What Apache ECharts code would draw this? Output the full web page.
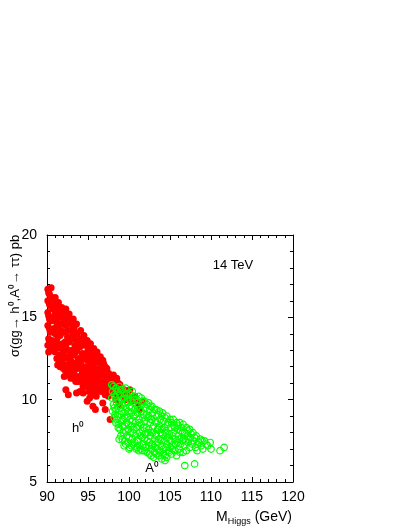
<!DOCTYPE html>
<html lang="en">
<head>
    <meta charset="UTF-8">
    <title>sigma(gg -> h0,A0 -> tautau) 14 TeV</title>
    <style>
        body{ margin:0; background:#fff; }
        #main{ width:409px; height:529px; }
    </style>
    <script src="https://cdn.jsdelivr.net/npm/echarts@6/dist/echarts.min.js"></script>
</head>
<body>
<div id="main"></div>
<script type="text/javascript">

    // axis ranges
    var xRange = [90, 120];
    var yRange = [5, 20];

    // h0 points (M_Higgs, sigma) - red filled
    var hPoints = [
        [90.1,16.7],[90.3,16.4],[90.1,16.0],[90.4,15.7],[90.1,15.3],[90.3,14.9],[90.1,14.5],[90.4,14.1],[90.2,13.7],[90.1,13.3],[90.4,13.0],
        [90.5,16.8],[90.6,16.2],[90.7,15.5],[90.6,14.8],[90.8,14.3],[90.6,13.6],[90.8,13.1],
        [91.0,16.2],[91.1,15.8],[91.0,15.2],[91.2,14.7],[91.0,14.0],[91.2,13.5],[91.0,12.9],[91.2,12.5],
        [91.4,15.9],[91.5,15.4],[91.4,14.4],[91.6,13.9],[91.4,13.2],[91.6,12.7],[91.3,12.1],
        [91.8,15.6],[91.9,15.0],[91.8,14.6],[92.0,14.1],[91.9,13.4],[92.0,12.9],[91.8,12.3],[92.0,11.9],[92.1,11.4],
        [92.3,15.5],[92.4,15.0],[92.3,14.5],[92.5,13.8],[92.3,13.2],[92.5,12.6],[92.4,12.1],[92.6,11.7],
        [92.7,15.2],[92.8,14.7],[92.9,14.2],[92.7,13.5],[92.9,12.9],[92.8,12.4],[93.0,11.9],[92.9,11.3],[92.3,10.6],[92.6,10.3],
        [93.2,14.9],[93.3,14.4],[93.2,13.9],[93.4,13.3],[93.2,12.7],[93.4,12.2],[93.3,11.6],[93.5,11.1],
        [93.6,14.6],[93.7,14.0],[93.8,13.6],[93.6,13.0],[93.8,12.5],[93.7,11.9],[93.9,11.4],[93.6,10.4],[94.0,10.5],
        [94.1,14.2],[94.2,13.7],[94.0,13.2],[94.3,12.8],[94.1,12.2],[94.3,11.7],[94.1,11.1],
        [94.5,13.9],[94.6,13.3],[94.5,12.5],[94.7,12.0],[94.5,11.4],[94.6,10.8],[94.4,10.4],
        [94.9,13.6],[95.0,13.0],[94.9,12.4],[95.1,11.9],[94.9,11.3],[95.0,10.8],[94.9,9.9],[95.2,10.1],[95.6,10.4],
        [95.3,13.4],[95.4,12.8],[95.3,12.2],[95.5,11.6],[95.3,11.1],[95.5,10.7],
        [95.7,13.1],[95.8,12.5],[95.7,12.0],[95.9,11.4],[95.8,10.9],[95.6,9.6],[95.9,9.4],
        [96.1,12.9],[96.2,12.3],[96.1,11.7],[96.3,11.2],[96.2,10.6],[96.0,10.2],
        [96.5,12.6],[96.6,12.0],[96.5,11.5],[96.7,11.0],[96.6,10.5],[96.8,9.8],
        [96.9,12.2],[97.0,11.6],[96.9,11.1],[97.1,10.6],[97.1,9.4],
        [97.3,11.9],[97.4,11.3],[97.3,10.8],[97.5,10.2],[97.7,8.8],
        [97.7,11.5],[97.8,11.0],[97.7,10.4],[98.1,11.5],[98.2,11.0],[98.1,10.4],
        [98.5,11.3],[98.6,10.7],[98.4,10.0],[98.9,10.9],[99.0,10.3],[98.8,9.7],
        [99.4,10.6],[99.5,10.0],[99.8,10.4],[100.1,10.6],[100.3,9.9],[100.7,10.2],[101.1,9.8],[101.6,9.9],[101.3,9.4],
        [90.2,16.5],[90.3,15.8],[90.2,15.1],[90.3,14.3],[90.3,13.5],[90.2,12.9],[90.9,15.9],[90.9,15.0],[90.9,14.1],[90.9,13.3],
        [91.1,14.4],[91.1,13.1],[91.3,15.6],[91.3,14.9],[91.3,13.8],[91.5,12.4],[91.7,15.2],[91.7,14.2],[91.7,13.1],[91.6,12.0],
        [92.1,15.3],[92.1,14.7],[92.2,13.5],[92.1,12.5],[92.2,11.8],[92.5,14.2],[92.6,13.0],[92.6,12.0],[92.7,11.5],
        [93.0,14.6],[93.0,13.7],[93.1,13.0],[93.0,12.3],[93.2,11.3],[93.4,14.1],[93.5,13.6],[93.5,12.9],[93.5,12.0],
        [93.8,13.2],[93.9,12.1],[93.8,11.1],[94.2,13.4],[94.3,12.5],[94.2,11.9],[94.3,11.3],[94.4,10.8],
        [94.7,13.6],[94.8,12.8],[94.7,11.7],[94.8,11.1],[95.1,13.3],[95.2,12.6],[95.2,11.5],[95.1,10.5],
        [95.6,12.8],[95.5,12.2],[95.6,11.2],[95.7,10.6],[96.0,12.6],[96.0,11.9],[95.9,11.0],
        [96.4,12.3],[96.4,11.4],[96.4,10.9],[96.8,12.4],[96.8,11.7],[96.8,10.8],[97.1,12.0],[97.2,11.4],[97.1,10.3],
        [97.5,11.6],[97.6,11.1],[97.4,10.5],[97.9,11.2],[97.9,10.7],[98.3,11.2],[98.3,10.6],[98.7,11.0],[98.6,10.3]
    ];

    // A0 points (M_Higgs, sigma) - green open circles
    var aPoints = [
        [97.9,10.9],[98.0,10.5],[97.9,10.1],[98.1,9.7],[98.0,9.3],[98.2,8.9],
        [98.4,10.7],[98.3,10.2],[98.5,9.8],[98.4,9.4],[98.6,9.0],[98.4,8.6],[98.7,8.3],
        [98.8,10.8],[98.9,10.3],[98.8,9.9],[99.0,9.5],[98.9,9.1],[99.1,8.7],[98.9,8.2],[99.0,7.8],
        [99.2,10.6],[99.3,10.1],[99.2,9.7],[99.4,9.2],[99.3,8.8],[99.5,8.4],[99.3,8.0],[99.5,7.5],[99.4,7.2],
        [99.6,10.7],[99.7,10.3],[99.8,9.9],[99.6,9.5],[99.8,9.0],[99.7,8.6],[99.9,8.2],[99.7,7.8],[99.9,7.4],[100.1,7.1],
        [100.0,10.4],[100.2,10.0],[100.1,9.6],[100.3,9.2],[100.1,8.8],[100.3,8.4],[100.2,8.0],[100.4,7.6],[100.3,7.2],
        [100.6,10.2],[100.5,9.8],[100.7,9.4],[100.6,9.0],[100.8,8.6],[100.6,8.2],[100.8,7.8],[100.7,7.4],[100.9,7.0],
        [101.0,10.0],[101.1,9.6],[101.0,9.2],[101.2,8.8],[101.1,8.4],[101.3,8.0],[101.1,7.6],[101.3,7.2],[101.2,6.9],
        [101.5,10.1],[101.6,9.7],[101.5,9.3],[101.7,8.9],[101.5,8.5],[101.7,8.1],[101.6,7.7],[101.8,7.3],[101.6,6.9],
        [101.9,9.9],[102.0,9.5],[102.1,9.1],[101.9,8.7],[102.1,8.3],[102.0,7.9],[102.2,7.5],[102.0,7.1],[102.2,6.8],
        [102.4,9.8],[102.5,9.4],[102.4,9.0],[102.6,8.6],[102.4,8.2],[102.6,7.8],[102.5,7.4],[102.7,7.0],[102.5,6.7],
        [102.8,9.6],[102.9,9.2],[102.8,8.8],[103.0,8.4],[102.9,8.0],[103.1,7.6],[102.9,7.2],[103.1,6.8],[103.0,6.5],
        [103.3,9.4],[103.4,9.0],[103.3,8.6],[103.5,8.2],[103.3,7.8],[103.5,7.4],[103.4,7.0],[103.6,6.6],
        [103.7,9.3],[103.8,8.8],[103.7,8.4],[103.9,8.0],[103.8,7.6],[104.0,7.2],[103.8,6.8],[104.0,6.4],
        [104.1,9.2],[104.2,8.7],[104.3,8.3],[104.1,7.9],[104.3,7.5],[104.2,7.0],[104.4,6.6],[104.4,6.3],
        [104.6,9.0],[104.7,8.5],[104.5,8.1],[104.7,7.7],[104.6,7.3],[104.8,6.9],
        [105.0,8.8],[105.1,8.3],[104.9,7.9],[105.1,7.5],[105.0,7.1],[105.2,6.7],
        [105.4,8.8],[105.5,8.4],[105.4,8.0],[105.6,7.6],[105.4,7.2],[105.8,6.6],
        [105.8,8.6],[105.9,8.2],[106.0,7.8],[105.9,7.4],[106.1,7.0],
        [106.2,8.6],[106.3,8.1],[106.4,7.7],[106.3,7.3],
        [106.6,8.5],[106.5,8.0],[106.7,7.6],[106.8,7.2],[106.6,6.8],[106.8,6.0],
        [107.0,8.3],[107.1,7.8],[107.2,7.4],[107.4,8.2],[107.5,7.7],[107.4,7.1],
        [107.8,8.0],[107.9,7.5],[108.0,6.1],[108.2,7.8],[108.3,7.3],[108.3,6.9],
        [108.7,7.6],[108.8,7.2],[109.2,7.5],[109.6,7.2],[109.9,7.4],[110.0,7.0],[111.1,6.9],[111.6,7.1],
        [98.1,10.8],[98.2,10.3],[98.2,9.5],[98.3,9.1],[98.5,8.8],[98.6,10.5],[98.7,9.6],[98.7,8.5],[98.8,7.6],
        [99.0,10.6],[99.1,10.0],[99.1,9.3],[99.2,8.4],[99.2,7.6],[99.4,10.4],[99.5,9.8],[99.5,8.9],[99.6,8.1],[99.6,7.3],
        [99.8,10.1],[99.9,9.3],[99.9,8.5],[100.0,7.7],[100.0,7.0],[100.2,10.3],[100.3,9.5],[100.4,8.7],[100.5,8.0],[100.5,7.3],
        [100.4,10.5],[100.7,10.0],[100.8,9.1],[100.9,8.3],[101.0,7.5],[101.0,7.1],[101.2,10.2],[101.3,9.4],[101.3,8.6],[101.4,7.8],[101.4,7.0],
        [101.7,9.9],[101.8,9.1],[101.8,8.3],[101.9,7.6],[101.9,6.9],[102.2,9.7],[102.3,8.9],[102.3,8.0],[102.4,7.2],
        [102.6,9.6],[102.7,8.8],[102.7,8.0],[102.8,7.3],[102.7,6.6],[103.1,9.4],[103.2,8.7],[103.2,7.9],[103.2,7.1],[103.3,6.7],
        [103.6,9.1],[103.6,8.3],[103.6,7.6],[103.7,6.9],[104.0,9.0],[104.0,8.2],[104.0,7.5],[104.2,6.7],
        [104.4,8.9],[104.4,8.0],[104.5,7.1],[104.6,6.5],[104.8,8.6],[104.9,7.6],[104.9,6.8],
        [105.2,8.6],[105.3,7.8],[105.3,7.0],[105.6,8.3],[105.7,7.3],[105.6,6.9],[106.0,8.4],[106.1,7.6],[106.2,6.8],
        [106.4,8.3],[106.5,7.5],[106.8,8.0],[106.9,7.5],[107.0,6.9],[107.2,8.1],[107.3,7.6],[107.6,7.9],[107.7,7.3],
        [108.0,7.7],[108.1,7.1],[108.5,7.4],[108.9,7.5],[109.0,7.0],[109.4,7.3]
    ];

    var FONT = '"Liberation Sans", Arial, sans-serif';

    var myChart = echarts.init(document.getElementById('main'), null, {renderer: 'canvas'});

    // common axis bits
    function axisBase(showLabel, pos) {
        return {
            position: pos,
            scale: true,
            splitLine: {show: false},
            axisLine: {show: true, onZero: false, lineStyle: {color: '#000', width: 1}},
            axisTick: {show: true, inside: true, length: 5, lineStyle: {color: '#000', width: 1}},
            minorTick: {show: true, splitNumber: 5, length: 3, lineStyle: {color: '#000', width: 1}},
            axisLabel: {show: showLabel, color: '#000', fontSize: 14, fontFamily: FONT}
        };
    }

    var xBottom = axisBase(true, 'bottom');
    xBottom.type = 'value'; xBottom.min = xRange[0]; xBottom.max = xRange[1]; xBottom.interval = 5;
    xBottom.axisLabel.margin = 8;
    var xTop = axisBase(false, 'top');
    xTop.type = 'value'; xTop.min = xRange[0]; xTop.max = xRange[1]; xTop.interval = 5;

    var yLeft = axisBase(true, 'left');
    yLeft.type = 'value'; yLeft.min = yRange[0]; yLeft.max = yRange[1]; yLeft.interval = 5;
    yLeft.axisLabel.margin = 10;
    var yRight = axisBase(false, 'right');
    yRight.type = 'value'; yRight.min = yRange[0]; yRight.max = yRange[1]; yRight.interval = 5;

    var option = {
        backgroundColor: '#fff',
        animation: false,
        grid: {left: 47, top: 235, width: 246, height: 247, containLabel: false},
        xAxis: [xBottom, xTop],
        yAxis: [yLeft, yRight],
        series: [{
            name: 'h0',
            type: 'scatter',
            xAxisIndex: 0, yAxisIndex: 0,
            symbol: 'circle',
            symbolSize: 7,
            itemStyle: {color: '#ff0000', opacity: 1},
            data: hPoints
        }, {
            name: 'A0',
            type: 'scatter',
            xAxisIndex: 0, yAxisIndex: 0,
            symbol: 'circle',
            symbolSize: 6.5,
            itemStyle: {color: 'rgba(0,0,0,0)', borderColor: '#00ff00', borderWidth: 1.2, opacity: 1},
            data: aPoints
        }],
        graphic: [{
            type: 'text', x: 15, y: 296, rotation: Math.PI / 2,
            style: {text: 'σ(gg→ h⁰,A⁰→ ττ) pb', fill: '#000', font: '13px ' + FONT, align: 'center', verticalAlign: 'middle'}
        }, {
            type: 'text', x: 233, y: 265,
            style: {text: '14 TeV', fill: '#000', font: '13px ' + FONT, align: 'center', verticalAlign: 'middle'}
        }, {
            type: 'text', x: 78, y: 428,
            style: {text: 'h⁰', fill: '#000', font: '13px ' + FONT, align: 'center', verticalAlign: 'middle'}
        }, {
            type: 'text', x: 152, y: 468,
            style: {text: 'A⁰', fill: '#000', font: '13px ' + FONT, align: 'center', verticalAlign: 'middle'}
        }, {
            type: 'text', x: 292, y: 517,
            style: {
                text: '{m|M}{s|Higgs}{m| (GeV)}',
                align: 'right', verticalAlign: 'middle',
                rich: {
                    m: {fontSize: 14, fontFamily: FONT, color: '#000', lineHeight: 18, verticalAlign: 'middle'},
                    s: {fontSize: 9, fontFamily: FONT, color: '#000', lineHeight: 18, padding: [9, 0, 0, 0], verticalAlign: 'middle'}
                }
            }
        }]
    };

    myChart.setOption(option);

</script>
</body>
</html>
